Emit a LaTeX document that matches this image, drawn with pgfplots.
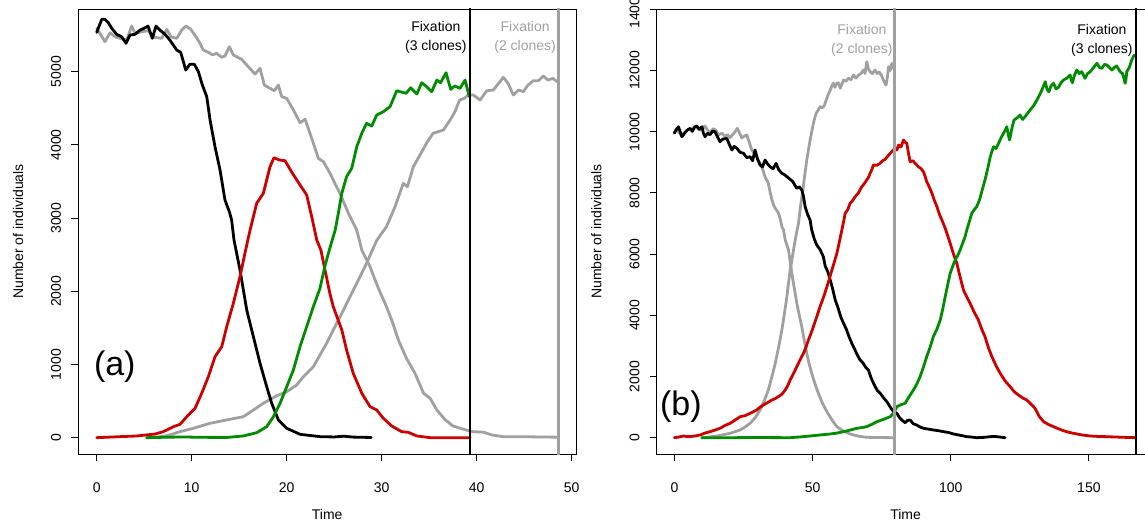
\documentclass[border=0pt]{standalone}
\usepackage{pgfplots}
\pgfplotsset{compat=1.18}
\usepackage{fontspec}
\setmainfont{Liberation Sans}
\definecolor{cgray}{HTML}{A0A0A0}
\definecolor{cred}{HTML}{CD0000}
\definecolor{cgreen}{HTML}{008B00}
\pgfplotsset{
  rplot/.style={
    scale only axis, width=497.7pt, height=445pt,
    axis line style={line width=0.9pt},
    tick style={line width=0.9pt, black},
    major tick length=7pt,
    tick align=outside, tick pos=left,
    scaled ticks=false,
    /pgf/number format/assume math mode=true,
    /pgf/number format/1000 sep={},
    /pgf/number format/fixed,
    tick label style={font=\fontsize{14}{17}\selectfont},
    label style={font=\fontsize{14}{17}\selectfont},
    xticklabel style={anchor=north, inner sep=0pt},
    yticklabel style={rotate=90, anchor=south, inner sep=0pt},
    xticklabel shift=22pt, yticklabel shift=10pt,
    xlabel style={at={(axis description cs:0.5,-0.137)}, anchor=center},
    ylabel style={at={(axis description cs:-0.121,0.5)}, anchor=center},
    xlabel={Time}, ylabel={Number of individuals},
    no markers,
    every axis plot/.append style={line width=2.8pt, line join=round, line cap=round},
  },
}
\begin{document}
\begin{tikzpicture}
% ---------------- panel (a) ----------------
\begin{axis}[rplot, at={(78.3pt,71pt)}, anchor=south west,
  xmin=-1.94, xmax=50.45, ymin=-223, ymax=5857,
  xtick={0,10,20,30,40,50}, ytick={0,1000,2000,3000,4000,5000}]
\addplot[cgray] coordinates {(0,5593) (0.87,5410) (1.4,5533) (1.93,5478) (2.45,5456) (3.15,5433) (3.68,5624) (4.03,5525) (4.73,5546) (5.4,5560) (6.14,5469) (6.84,5456) (7.37,5579) (7.82,5478) (8.42,5456) (8.95,5570) (9.4,5624) (9.9,5579) (10.45,5478) (10.87,5388) (11.22,5296) (11.75,5265) (12.2,5230) (12.63,5251) (13.15,5197) (13.5,5215) (13.96,5342) (14.38,5228) (15.26,5169) (15.96,5068) (16.66,4968) (17.19,5046) (17.64,4818) (18.24,4773) (18.7,4740) (19.12,4818) (19.47,4659) (20,4637) (20.7,4477) (21.4,4303) (21.93,4350) (22.45,4158) (23.33,3817) (23.86,3770) (24.56,3612) (24.9,3520) (25.6,3339) (26.5,3065) (27.37,2837) (27.9,2564) (28.77,2336) (29.3,2154) (29.8,1995) (30.5,1790) (31.05,1608) (31.75,1335) (32.6,1085) (33.5,880) (34.4,607) (35.1,538) (35.8,378) (36.7,242) (37.5,160) (38.6,115) (39.6,82) (40.7,75) (41.6,37) (42.8,14) (44.6,14) (46.5,10) (48.4,7)};
\addplot[cgray] coordinates {(5.26,0) (6.5,10) (7.5,30) (8.77,82) (10.17,128) (11.93,197) (13.68,242) (15.43,287) (16.49,378) (17.54,470) (18.95,574) (20,628) (21.05,720) (21.75,833) (22.8,970) (23.5,1130) (24.2,1290) (24.9,1471) (25.8,1699) (26.66,1926) (27.54,2154) (28.4,2382) (29.1,2587) (29.5,2701) (30.5,2883) (31.4,3156) (32.27,3475) (32.7,3429) (33.33,3702) (34.03,3862) (34.7,4022) (35.4,4158) (36.5,4204) (37.2,4340) (37.7,4454) (38.2,4613) (38.7,4637) (39.1,4682) (39.65,4682) (40.35,4613) (41.05,4740) (41.75,4750) (42.8,4923) (43.3,4841) (43.85,4682) (44.4,4750) (44.9,4727) (45.4,4818) (45.96,4877) (46.5,4877) (47.0,4941) (47.5,4886) (48.0,4909) (48.5,4863)};
\addplot[black] coordinates {(0,5538) (0.53,5716) (0.88,5716) (1.22,5670) (1.58,5593) (2.1,5511) (2.63,5478) (3.08,5388) (3.5,5501) (4.03,5511) (4.56,5570) (4.98,5593) (5.4,5624) (5.85,5456) (6.24,5624) (6.73,5560) (7.19,5511) (7.7,5433) (8.42,5296) (8.84,5265) (9.37,5023) (9.8,5101) (10.28,5101) (10.7,5000) (11.12,4818) (11.58,4659) (11.93,4340) (12.45,3975) (12.98,3657) (13.5,3247) (13.96,3087) (14.2,2974) (14.45,2701) (15.08,2291) (15.79,1745) (16.49,1380) (17.19,1016) (17.89,697) (18.42,470) (19.12,242) (20,128) (21.4,46) (23.5,14) (25,10) (26,20) (27,8) (28,5) (28.9,3)};
\addplot[cred] coordinates {(0,0) (2.45,14) (4.2,23) (6.14,50) (7.0,82) (8.07,150) (8.77,183) (9.64,310) (10.35,401) (11.05,607) (11.75,833) (12.45,1107) (13.16,1243) (13.68,1516) (14.38,1836) (15.08,2200) (15.6,2519) (16.14,2837) (16.84,3202) (17.54,3339) (18.24,3702) (18.66,3825) (19.22,3794) (19.82,3784) (20.5,3634) (21.4,3452) (22.1,3316) (22.63,3019) (23.16,2701) (23.6,2560) (24.03,2291) (24.56,1960) (24.9,1790) (25.8,1471) (26.3,1198) (27.0,880) (27.9,607) (28.77,424) (29.47,378) (30.17,265) (31.05,160) (32.1,82) (32.8,73) (33.7,23) (35.1,0) (39.3,0)};
\addplot[cgreen] coordinates {(5.26,0) (7,5) (9,10) (11,5) (13.7,3) (15.4,23) (16.84,68) (17.89,150) (18.6,287) (19.3,470) (20,697) (20.7,925) (21.4,1243) (22.1,1516) (22.8,1790) (23.5,2040) (24.03,2350) (24.56,2600) (25.1,2837) (25.43,3065) (25.8,3339) (26.3,3566) (26.84,3680) (27.37,3975) (27.9,4158) (28.4,4295) (28.95,4258) (29.47,4408) (30.17,4454) (30.87,4522) (31.58,4740) (32.56,4705) (33.05,4781) (33.7,4695) (34.2,4850) (34.65,4805) (35.26,4727) (35.8,4886) (36.2,4850) (36.77,4986) (37.26,4759) (37.7,4805) (38.24,4773) (38.77,4886) (39.22,4659)};
\addplot[black, line width=2.8pt, line cap=butt] coordinates {(39.3,-300) (39.3,6000)};
\addplot[cgray, line width=2.8pt, line cap=butt] coordinates {(48.6,-300) (48.6,6000)};
\node[anchor=east, align=center, inner sep=0pt, font=\fontsize{14}{19}\selectfont] at (axis cs:38.95,5467) {Fixation\\(3 clones)};
\node[anchor=east, align=center, inner sep=0pt, text=cgray, font=\fontsize{14}{19}\selectfont] at (axis cs:48.35,5467) {Fixation\\(2 clones)};
\node[inner sep=0pt, font=\fontsize{34}{40}\selectfont] at (axis cs:1.9,970) {(a)};
\end{axis}
% ---------------- panel (b) ----------------
\begin{axis}[rplot, at={(656.7pt,71pt)}, anchor=south west,
  xmin=-6.4, xmax=173.7, ymin=-533, ymax=14010,
  xtick={0,50,100,150}, ytick={0,2000,4000,6000,8000,10000,12000,14000}]
\addplot[cgray] coordinates {(0,9980) (0.8,10100) (1.5,10000) (2.5,9880) (3.5,9950) (4.5,10050) (5.5,10080) (6.5,10000) (7.5,10150) (8.5,10100) (9.5,10050) (10.3,10100) (11.1,10186) (12,10050) (12.9,9956) (14,10100) (15,10050) (16,9900) (17.2,9948) (18.2,9850) (19.2,9900) (20.2,9810) (21.5,9950) (22.8,10111) (23.6,9950) (24.4,9800) (25.3,9850) (26.2,9892) (27.1,9650) (28,9402) (28.9,9300) (29.8,9183) (30.7,9000) (31.6,8856) (32.2,8700) (32.8,8529) (33.4,8420) (34,8314) (34.7,8000) (35.3,7768) (35.9,7600) (36.5,7497) (37.1,7420) (37.7,7333) (38.3,7150) (38.9,6895) (39.5,6788) (40.1,6461) (40.7,6300) (41.3,6134) (41.9,5750) (42.5,5373) (43.4,4880) (44.3,4392) (45.2,4000) (46.1,3627) (47,3180) (47.9,2758) (48.8,2400) (49.7,2105) (50.9,1750) (52.1,1451) (53.6,1120) (55.2,850) (57,580) (58.8,360) (61.2,210) (63.6,121) (66.6,50) (69.6,13) (74,5) (79.3,0)};
\addplot[cgray] coordinates {(9.9,0) (12.5,20) (15.3,55) (17.8,100) (20.2,144) (22,200) (23.8,252) (25.6,350) (27.4,471) (29.2,650) (31,905) (32.5,1200) (34,1559) (35.3,2000) (36.5,2431) (37.7,2950) (38.9,3520) (39.8,4050) (40.7,4608) (41.3,5050) (41.9,5480) (42.6,5850) (43.3,6242) (44.1,6650) (44.9,7000) (45.7,7600) (46.5,8095) (47.2,8600) (47.9,9075) (48.5,9400) (49.1,9729) (49.7,10000) (50.3,10275) (50.8,10450) (51.3,10601) (52,10700) (52.7,10817) (53.4,10780) (54.2,10840) (54.8,11000) (55.6,11200) (56.4,11363) (57,11500) (57.5,11582) (58.1,11450) (58.7,11582) (59.4,11600) (60,11418) (60.6,11550) (61.2,11690) (62.1,11650) (63,11750) (63.9,11700) (64.8,11853) (65.7,11750) (66.6,11850) (67.5,11900) (68.4,12016) (69,11900) (69.6,12288) (70.2,12050) (70.8,11962) (71.7,11900) (72.6,12016) (73.4,11900) (74.1,11950) (74.9,11850) (75.6,11690) (76.1,11600) (76.6,11526) (77.1,11800) (77.5,12124) (78.1,12000) (78.7,12235) (79.3,12070)};
\addplot[black] coordinates {(0,9950) (0.6,10050) (1.45,10163) (2.1,10000) (2.7,9837) (3.3,9900) (3.9,9980) (4.8,10060) (5.7,10111) (6.5,10020) (7.2,10150) (8.1,10186) (9,10080) (10,10163) (10.5,9950) (11.1,9837) (12,9950) (12.9,9900) (13.8,10020) (14.7,10000) (15.5,9850) (16.5,9673) (17.5,9760) (19,9780) (19.8,9600) (20.8,9402) (21.6,9520) (22.6,9460) (23.7,9330) (25,9294) (26.2,9150) (27.4,9183) (28.3,9050) (29.2,9402) (30.1,9100) (31,8912) (31.9,8850) (32.8,9074) (33.7,8950) (34.6,8856) (35.7,8790) (36.8,8964) (37.8,8750) (38.9,8640) (39.8,8600) (40.7,8530) (41.8,8450) (42.9,8366) (43.6,8250) (44.3,8150) (45.2,8200) (46.1,8095) (46.7,7900) (47.3,7549) (48.2,7300) (49.1,7114) (49.7,6788) (50.6,6500) (51.5,6297) (52.7,6150) (53.9,5915) (54.6,5600) (55.4,5450) (56.4,5154) (57.3,4850) (58.2,4500) (59.2,4250) (60.2,3950) (61.2,3739) (62.2,3550) (63.2,3300) (64.2,3085) (65.2,2900) (66.2,2700) (67.2,2539) (68.2,2450) (69.2,2300) (70.2,2212) (71.2,1950) (72.2,1750) (73.3,1559) (74.5,1450) (75.7,1300) (76.9,1176) (78.1,1000) (79.3,850) (80.5,797) (81.5,650) (82.5,560) (83.5,490) (84.3,560) (85.3,578) (86.5,450) (87.7,415) (88.9,350) (90.1,307) (91.9,280) (93.7,252) (95.5,230) (97.4,196) (99.2,170) (101,121) (103.4,80) (105.8,33) (107.6,20) (109.4,0) (111.8,10) (114.3,33) (116,40) (117.8,20) (119.7,0)};
\addplot[cred] coordinates {(0,0) (1.5,20) (3.3,55) (4.5,40) (6,40) (7.7,60) (9.3,88) (11,150) (12.9,196) (14.7,250) (16.5,307) (18.3,400) (20.2,471) (22,580) (23.8,686) (25.6,720) (27.4,797) (28.6,850) (29.8,905) (31,1000) (32.2,1069) (33.8,1150) (35.3,1232) (36.5,1280) (37.6,1340) (38.9,1420) (40.1,1559) (41,1700) (41.9,1886) (43.1,2100) (44.3,2320) (45.5,2550) (46.7,2758) (47.6,2950) (48.5,3193) (49.4,3400) (50.3,3627) (51.5,3950) (52.7,4281) (54,4600) (55.2,4935) (56.1,5200) (57,5480) (57.9,5750) (58.8,6026) (59.7,6400) (60.6,6788) (61.2,7050) (61.8,7333) (62.7,7450) (63.6,7660) (64.5,7750) (65.4,7876) (66.6,8000) (67.8,8203) (68.7,8300) (69.6,8422) (70.2,8500) (70.8,8640) (71.4,8750) (72,8912) (73.2,8900) (74.4,8964) (75.3,9050) (76.3,9098) (77.2,9200) (78.1,9294) (79,9380) (79.9,9457) (80.5,9400) (81.1,9565) (82,9500) (82.9,9729) (83.5,9650) (84.1,9620) (84.7,9300) (85.3,9020) (86.3,9050) (87.3,8950) (88.3,8856) (89.2,8800) (90.1,8693) (90.7,8550) (91.3,8366) (92.2,8200) (93.2,7987) (94.1,7750) (95,7549) (95.9,7300) (96.8,7114) (97.4,6980) (98,6843) (98.9,6600) (99.8,6353) (101,6000) (102.2,5699) (103.4,5250) (104.6,4827) (105.8,4600) (107,4392) (108.5,4100) (110,3846) (111.2,3550) (112.4,3301) (113.6,2950) (114.9,2647) (116.4,2350) (117.9,2105) (119.7,1850) (121.5,1667) (123,1500) (124.5,1395) (126,1300) (127.5,1232) (129,1100) (130.5,961) (132,700) (133.6,523) (135.4,430) (137.2,360) (139,290) (140.8,229) (142.6,180) (144.4,144) (147.4,90) (150.5,56) (153.5,40) (156.5,33) (161.7,15) (166.9,0)};
\addplot[cgreen] coordinates {(9.9,0) (20,0) (30,5) (41.9,0) (45.5,25) (49.1,55) (52.8,90) (56.4,121) (58.8,150) (61.2,196) (63.6,250) (66,307) (67.8,330) (69.6,360) (71.5,440) (73.3,523) (75.7,600) (78.1,686) (79.3,800) (80.5,1013) (82,1080) (83.5,1124) (85,1350) (86.5,1559) (87.7,1750) (88.9,1993) (90.1,2300) (91.3,2647) (92.5,2950) (93.7,3301) (95,3550) (96.2,3846) (97.1,4200) (98,4608) (98.9,5000) (99.8,5373) (100.7,5600) (101.6,5807) (102.5,5950) (103.4,6134) (104.3,6350) (105.2,6569) (105.8,6788) (106.7,7050) (107.6,7333) (108.5,7450) (109.4,7550) (110.4,7768) (111.4,8100) (112.4,8422) (113.4,8800) (114.3,9183) (114.9,9350) (115.5,9510) (116.4,9450) (117.3,9620) (118.2,9800) (119.1,9948) (119.7,10050) (120.3,10163) (120.8,9900) (121.3,9729) (122.1,10100) (122.9,10382) (124,10450) (125.1,10546) (126,10400) (126.9,10490) (127.8,10600) (128.7,10709) (130,10850) (131.2,11036) (132.1,11200) (133,11363) (133.6,11500) (134.2,11634) (134.8,11400) (135.5,11300) (136.3,11500) (137.2,11582) (138.1,11400) (139,11450) (139.9,11600) (140.8,11690) (142,11750) (143.2,11853) (143.6,11700) (144,11600) (144.8,11850) (145.6,12016) (146.5,11900) (147.4,11962) (148,11850) (148.6,11745) (149.5,11900) (150.5,11961) (151.7,12100) (152.9,12235) (153.8,12100) (154.7,12070) (155.6,12200) (156.5,12180) (157.4,12100) (158.3,12016) (159.2,12100) (160,12150) (160.7,12050) (161.3,11961) (162.2,11900) (163.1,11582) (163.4,11700) (163.7,11961) (164.6,12100) (165.5,12343) (166.4,12506)};
\addplot[cgray, line width=2.8pt, line cap=butt] coordinates {(79.6,-1000) (79.6,15000)};
\addplot[black, line width=2.8pt, line cap=butt] coordinates {(167,-1000) (167,15000)};
\node[anchor=east, align=center, inner sep=0pt, text=cgray, font=\fontsize{14}{19}\selectfont] at (axis cs:79.05,12987) {Fixation\\(2 clones)};
\node[anchor=east, align=center, inner sep=0pt, font=\fontsize{14}{19}\selectfont] at (axis cs:165.9,12987) {Fixation\\(3 clones)};
\node[inner sep=0pt, font=\fontsize{34}{40}\selectfont] at (axis cs:2.35,1013) {(b)};
\end{axis}
\pgfresetboundingbox
\path[use as bounding box] (0pt,0pt) rectangle (1145pt,525pt);
\end{tikzpicture}
\end{document}
